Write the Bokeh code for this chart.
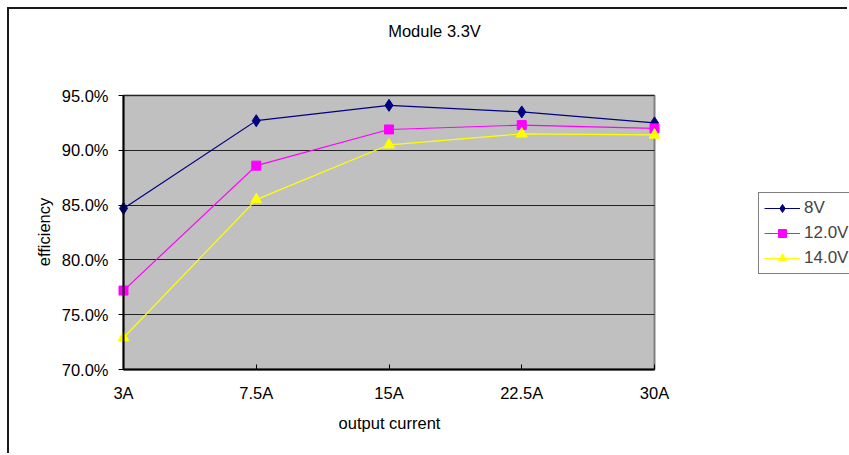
import math
from bokeh.plotting import figure
from bokeh.models import (Legend, LegendItem, Label, PrintfTickFormatter, FixedTicker, Range1d)
from bokeh.embed import file_html
from bokeh.resources import INLINE

categories = ["3A", "7.5A", "15A", "22.5A", "30A"]
series_names = ["8V", "12.0V", "14.0V"]
eff_8v = [84.7, 92.7, 94.1, 93.5, 92.5]
eff_12v = [77.2, 88.6, 91.9, 92.3, 92.0]
eff_14v = [72.9, 85.5, 90.5, 91.5, 91.4]
y_ticks = [70, 75, 80, 85, 90, 95]
title_text = "Module 3.3V"
x_label = "output current"
y_label = "efficiency"

FONT = "Liberation Sans"
xs = list(range(len(categories)))
Y0, Y1 = y_ticks[0], y_ticks[-1]
X0, X1 = xs[0], xs[-1]

# layout (picture pixels)
OFF = 9                      # canvas origin in page picture
W, H = 849 - OFF, 455 - OFF
PA_L, PA_R, PA_T, PA_B = 123, 654, 95, 369   # plot-area box
px_x = (PA_R - PA_L) / (X1 - X0)
px_y = (PA_B - PA_T) / (Y1 - Y0)
x_start = X0 - (PA_L - OFF) / px_x
x_end = X0 + (849 - PA_L) / px_x
y_start = Y0 - (455 - PA_B) / px_y
y_end = Y1 + (PA_T - OFF) / px_y


def dx(px):
    return X0 + (px - PA_L) / px_x


def dy(py):
    return Y0 + (PA_B - py) / px_y


p = figure(width=W, height=H, output_backend="svg", toolbar_location=None,
           x_range=Range1d(x_start, x_end), y_range=Range1d(y_start, y_end),
           min_border_left=0, min_border_right=0, min_border_top=0, min_border_bottom=0)
p.styles = {"border-top": "2px solid #1a1a1a", "border-left": "2px solid #1a1a1a",
            "margin-left": "7px", "margin-top": "7px"}
p.background_fill_color = "white"
p.border_fill_color = "white"
p.outline_line_color = None

# plot area
p.quad(left=[X0], right=[X1], bottom=[Y0], top=[Y1], fill_color="#C0C0C0",
       line_color="#808080", line_width=2, level="image")

p.xgrid.visible = False
p.ygrid.grid_line_color = "#222222"
p.ygrid.grid_line_width = 1
p.ygrid.ticker = FixedTicker(ticks=y_ticks)
p.ygrid.cross_bounds = (X0, X1)
p.ygrid.bounds = (Y0, Y1)

p.xaxis.ticker = FixedTicker(ticks=xs)
p.xaxis.major_label_overrides = {i: c for i, c in enumerate(categories)}
p.xaxis.bounds = (X0, X1)
p.xaxis.fixed_location = Y0
p.yaxis.ticker = FixedTicker(ticks=y_ticks)
p.yaxis.formatter = PrintfTickFormatter(format="%.1f%%")
p.yaxis.bounds = (Y0, Y1)
p.yaxis.fixed_location = X0
for ax in (p.xaxis, p.yaxis):
    ax.axis_line_color = "black"
    ax.axis_line_width = 2
    ax.major_tick_line_color = "black"
    ax.minor_tick_line_color = None
    ax.major_label_text_font = FONT
    ax.major_label_text_font_size = "16.5px"
    ax.major_label_text_color = "black"
p.xaxis.major_tick_in = 5
p.xaxis.major_tick_out = 0
p.yaxis.major_tick_in = 0
p.yaxis.major_tick_out = 5
p.xaxis.major_label_standoff = 14
p.yaxis.major_label_standoff = 10

colors = ["#000080", "#FF00FF", "#FFFF00"]
markers = ["diamond", "square", "triangle"]
sizes = [12, 9, 11]
items = []
for name, vals, c, m, s in zip(series_names, [eff_8v, eff_12v, eff_14v], colors, markers, sizes):
    l = p.line(xs, vals, line_color=c, line_width=1.2)
    sc = p.scatter(xs, vals, marker=m, size=s, fill_color=c, line_color=c)
    items.append(LegendItem(label=name, renderers=[l, sc]))

legend = Legend(items=items, location=(758 - OFF, 455 - 274), border_line_color="black",
                border_line_width=1, background_fill_color="white", background_fill_alpha=1,
                label_text_font=FONT, label_text_font_size="17px", glyph_width=36,
                glyph_height=20, label_height=20, spacing=5, padding=5, margin=0,
                label_standoff=4)
p.add_layout(legend, "center")

common = dict(text_font=FONT, text_font_size="16.5px", text_align="center",
              text_baseline="middle", text_color="black")
p.add_layout(Label(x=dx(434), y=dy(30), text=title_text, **common))
p.add_layout(Label(x=dx(389), y=dy(422), text=x_label, **common))
p.add_layout(Label(x=dx(43.5), y=dy(231.5), text=y_label, angle=math.pi / 2, **common))

open("out.html", "w").write(file_html(p, INLINE))
